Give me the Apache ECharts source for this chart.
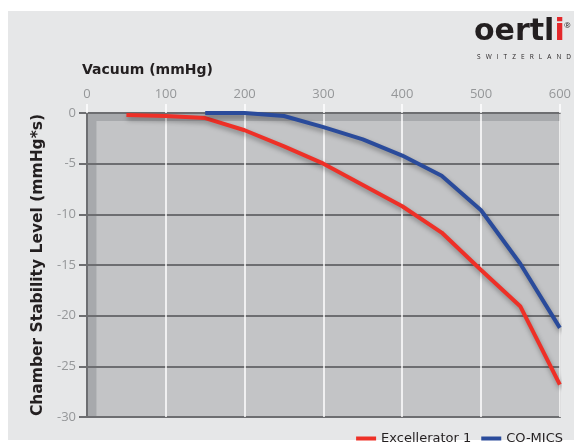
<!DOCTYPE html>
<html>
<head>
<meta charset="utf-8">
<script src="https://cdn.jsdelivr.net/npm/echarts@6/dist/echarts.min.js"></script>
<style>
html,body{margin:0;padding:0;background:#ffffff;}
#chart{width:574px;height:442px;}
</style>
</head>
<body>
<div id="chart"></div>
<script>
// Data
var xTicks = [0, 100, 200, 300, 400, 500, 600];
var yTicks = [0, -5, -10, -15, -20, -25, -30];
var seriesNames = ['Excellerator 1', 'CO-MICS'];
var excelleratorX = [50, 100, 150, 200, 250, 300, 350, 400, 450, 500, 550, 600];
var excelleratorY = [-0.2, -0.3, -0.5, -1.7, -3.3, -5.0, -7.1, -9.2, -11.8, -15.5, -19.1, -26.8];
var comicsX = [150, 200, 250, 300, 350, 400, 450, 500, 550, 600];
var comicsY = [0, 0, -0.3, -1.4, -2.6, -4.2, -6.2, -9.6, -14.9, -21.2];

function pairs(xs, ys) { return xs.map(function (x, i) { return [x, ys[i]]; }); }

var chart = echarts.init(document.getElementById('chart'));
var font = "'Open Sans', 'Noto Sans', sans-serif";
var wide = "'DejaVu Sans', 'Open Sans', sans-serif";
var shadow = { shadowColor: 'rgba(0,0,0,0.35)', shadowBlur: 5, shadowOffsetX: 1, shadowOffsetY: 3 };

chart.setOption({
  animation: false,
  textStyle: { fontFamily: font },
  graphic: [
    { type: 'rect', z: -10, silent: true, shape: { x: 8, y: 11, width: 566, height: 429 }, style: { fill: '#e6e7e8' } },
    { type: 'text', left: 82, top: 63, silent: true,
      style: { text: 'Vacuum (mmHg)', font: 'bold 14px ' + wide, fill: '#231f20' } },
    { type: 'text', left: 474, top: 17, silent: true,
      style: { text: '{b|oertl}{r|i}', rich: {
        b: { font: 'bold 30px ' + wide, fill: '#231f20' },
        r: { font: 'bold 30px ' + wide, fill: '#e4282b' } } } },
    { type: 'text', left: 564, top: 22, silent: true,
      style: { text: '®', font: '8px ' + font, fill: '#231f20' } },
    { type: 'text', left: 477, top: 54, silent: true,
      style: { text: 'S   W   I   T   Z   E   R   L   A   N   D', font: '6.5px ' + font, fill: '#231f20' } }
  ],
  legend: {
    right: 6, top: 427, itemWidth: 20, itemHeight: 4, itemGap: 10, icon: 'rect',
    textStyle: { fontSize: 13, color: '#231f20', fontFamily: wide },
    data: seriesNames
  },
  grid: {
    left: 87, right: 8, top: 113, bottom: 25,
    show: true, backgroundColor: '#a7a9ac', borderColor: '#6d6e71', borderWidth: 2
  },
  xAxis: {
    type: 'value', position: 'top', min: 0, max: 600, interval: 100, z: 3,
    axisLine: { show: true, lineStyle: { color: '#6d6e71', width: 2 } },
    axisTick: { show: true, length: 9, lineStyle: { color: '#ffffff', width: 1.5 } },
    axisLabel: { color: '#959799', fontSize: 13, margin: 12, fontFamily: font },
    splitLine: { show: true, lineStyle: { color: '#ffffff', width: 1.5 } }
  },
  yAxis: {
    type: 'value', min: -30, max: 0, interval: 5, z: 3,
    name: 'Chamber Stability Level (mmHg*s)', nameLocation: 'middle', nameGap: 41,
    nameTextStyle: { fontWeight: 'bold', fontSize: 15.5, color: '#231f20', fontFamily: wide },
    axisLine: { show: true, lineStyle: { color: '#6d6e71', width: 2 } },
    axisTick: { show: true, length: 8, lineStyle: { color: '#6d6e71', width: 2 } },
    axisLabel: { color: '#959799', fontSize: 13, margin: 11, fontFamily: font },
    splitLine: { show: true, lineStyle: { color: '#6d6e71', width: 2 } }
  },
  series: [
    {
      name: 'panel', type: 'line', data: [], z: 1, silent: true,
      markArea: {
        silent: true,
        itemStyle: { color: '#c3c4c6' },
        data: [[{ coord: [12, -0.8] }, { coord: [600, -30] }]]
      }
    },
    {
      name: seriesNames[0], type: 'line', data: pairs(excelleratorX, excelleratorY),
      showSymbol: false, symbol: 'none', z: 5,
      itemStyle: { color: '#ee3027' },
      lineStyle: Object.assign({ color: '#ee3027', width: 4 }, shadow)
    },
    {
      name: seriesNames[1], type: 'line', data: pairs(comicsX, comicsY),
      showSymbol: false, symbol: 'none', z: 5,
      itemStyle: { color: '#2a4b9b' },
      lineStyle: Object.assign({ color: '#2a4b9b', width: 4 }, shadow)
    }
  ]
});
</script>
</body>
</html>
